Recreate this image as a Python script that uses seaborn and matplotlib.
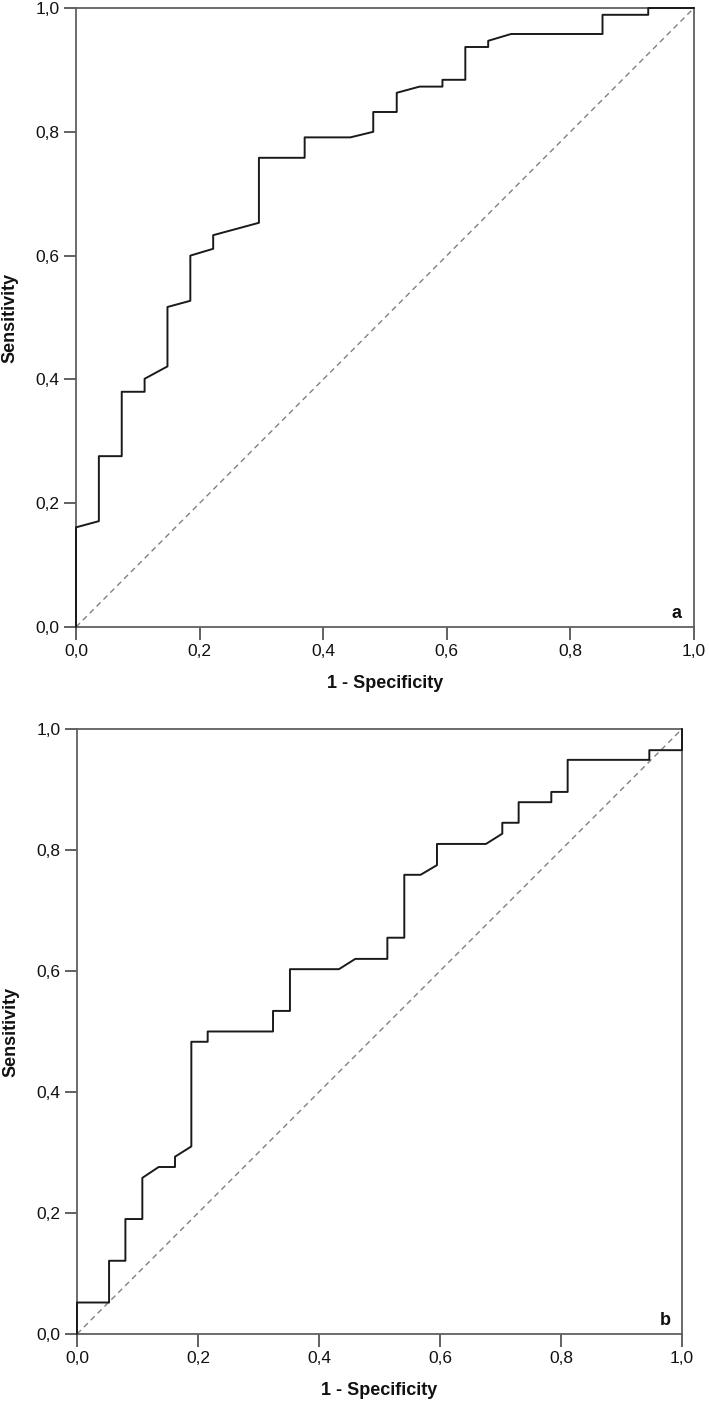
import matplotlib
matplotlib.use("Agg")
import matplotlib.pyplot as plt
import seaborn as sns
import pandas as pd

# ROC curve vertices (1 - specificity, sensitivity)
fpr_a = [0.0, 0.0, 0.037, 0.037, 0.074, 0.074, 0.111, 0.111, 0.148, 0.148,
         0.185, 0.185, 0.222, 0.222, 0.296, 0.296, 0.370, 0.370, 0.444, 0.481,
         0.481, 0.519, 0.519, 0.556, 0.593, 0.593, 0.630, 0.630, 0.667, 0.667,
         0.704, 0.852, 0.852, 0.926, 0.926, 1.0]
tpr_a = [0.0, 0.161, 0.171, 0.276, 0.276, 0.380, 0.380, 0.401, 0.421, 0.517,
         0.527, 0.600, 0.611, 0.633, 0.653, 0.758, 0.758, 0.791, 0.791, 0.800,
         0.832, 0.832, 0.863, 0.873, 0.873, 0.884, 0.884, 0.937, 0.937, 0.947,
         0.958, 0.958, 0.989, 0.989, 1.0, 1.0]

fpr_b = [0.0, 0.0, 0.053, 0.053, 0.080, 0.080, 0.108, 0.108, 0.135, 0.162,
         0.162, 0.189, 0.189, 0.216, 0.216, 0.324, 0.324, 0.352, 0.352, 0.433,
         0.460, 0.513, 0.513, 0.541, 0.541, 0.568, 0.595, 0.595, 0.676, 0.703,
         0.703, 0.730, 0.730, 0.784, 0.784, 0.811, 0.811, 0.946, 0.946, 1.0, 1.0]
tpr_b = [0.0, 0.052, 0.052, 0.121, 0.121, 0.190, 0.190, 0.258, 0.276, 0.276,
         0.293, 0.310, 0.483, 0.483, 0.500, 0.500, 0.534, 0.534, 0.603, 0.603,
         0.620, 0.620, 0.655, 0.655, 0.759, 0.759, 0.775, 0.810, 0.810, 0.827,
         0.845, 0.845, 0.879, 0.879, 0.896, 0.896, 0.949, 0.949, 0.965, 0.965, 1.0]

tick_vals = [0.0, 0.2, 0.4, 0.6, 0.8, 1.0]
tick_labels = ["0,0", "0,2", "0,4", "0,6", "0,8", "1,0"]
panel_tags = ["a", "b"]

sns.set_style("white")
plt.rcParams['font.family'] = ['Liberation Sans', 'DejaVu Sans']

fig = plt.figure(figsize=(7.09, 14.03), dpi=100)
ax_a = fig.add_axes([0.1072, 0.5531, 0.8716, 0.4412])
ax_b = fig.add_axes([0.1086, 0.0492, 0.8533, 0.4312])

curves = [(fpr_a, tpr_a), (fpr_b, tpr_b)]
for ax, (fx, ty), tag in zip([ax_a, ax_b], curves, panel_tags):
    df = pd.DataFrame({"fpr": fx, "tpr": ty})
    # reference diagonal
    sns.lineplot(x=tick_vals, y=tick_vals, ax=ax, color="#808080",
                 linewidth=1.0, linestyle=(0, (4, 3)), zorder=1)
    sns.lineplot(data=df, x="fpr", y="tpr", ax=ax, sort=False, estimator=None,
                 color="#1a1a1a", linewidth=1.4, clip_on=False, zorder=3)
    ax.set_xlim(0, 1)
    ax.set_ylim(0, 1)
    ax.set_xticks(tick_vals)
    ax.set_xticklabels(tick_labels)
    ax.set_yticks(tick_vals)
    ax.set_yticklabels(tick_labels)
    ax.tick_params(axis="both", direction="out", length=9, width=1.3,
                   color="#555555", labelsize=12.5, labelcolor="#111111", pad=3,
                   bottom=True, left=True, top=False, right=False)
    for sp in ax.spines.values():
        sp.set_visible(True)
        sp.set_color("#606060")
        sp.set_linewidth(1.3)
    ax.set_xlabel("1 - Specificity", fontsize=13, fontweight="bold",
                  labelpad=12, color="#111111")
    ax.set_ylabel("Sensitivity", fontsize=13, fontweight="bold",
                  labelpad=12, color="#111111")
    ax.text(0.972, 0.022, tag, transform=ax.transAxes, fontsize=13,
            fontweight="bold", ha="center", va="center", color="#111111")

fig.savefig("out.png", dpi=100)
